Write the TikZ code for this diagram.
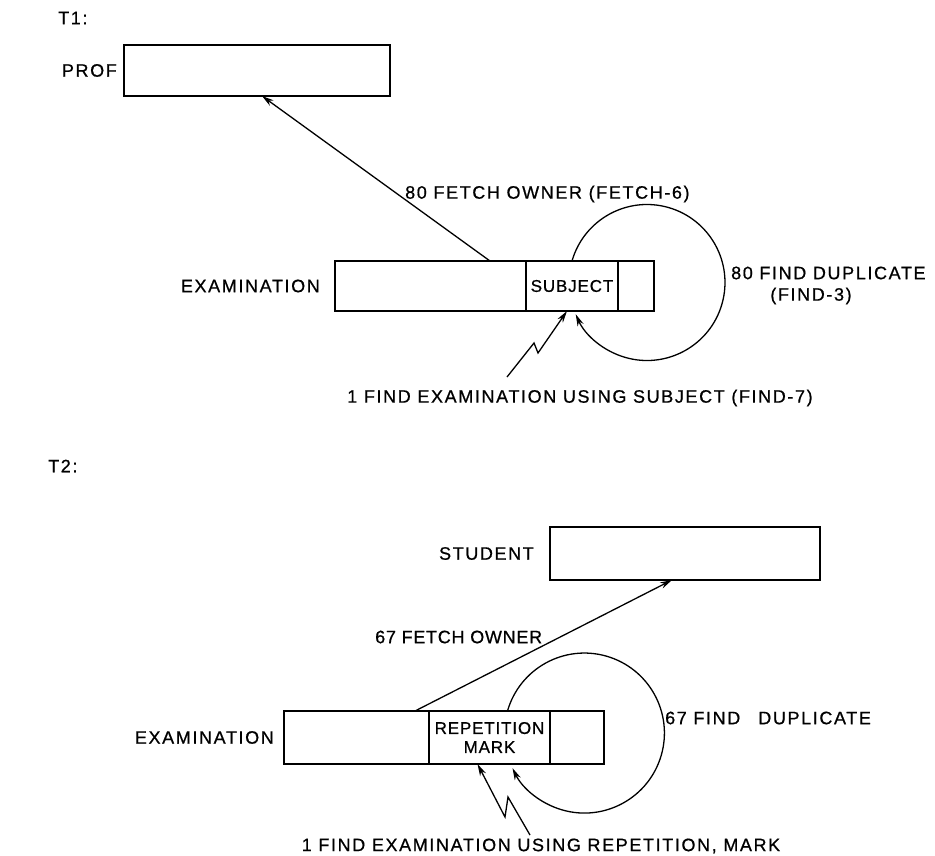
\documentclass[tikz,border=0pt]{standalone}
\usepackage{fontspec}
\newfontfamily\lettering{Liberation Sans}[LetterSpace=9, FakeBold=0.7]
\newfontfamily\tightlettering{Liberation Sans}[LetterSpace=4, FakeBold=0.7]
\newfontfamily\boxlettering{Liberation Sans}[LetterSpace=5, FakeBold=0.7]
\usetikzlibrary{arrows.meta, positioning}

\begin{document}
\begin{tikzpicture}[x=1pt, y=-1pt, >={Stealth[length=12pt, width=6.5pt]},
    recbox/.style={rectangle, draw, line width=1.5pt, outer sep=0pt, inner sep=0pt,
                   anchor=north west, font=\boxlettering\fontsize{17}{19}\selectfont,
                   align=center},
    lbl/.style={inner sep=0pt, font=\lettering\fontsize{18}{20}\selectfont},
    arrow/.style={->, line width=1.3pt}]

    \useasboundingbox (0,0) rectangle (935,855);

    % T1
    \node[lbl, anchor=west] (t1) at (58,18) {T1:};
    \node[recbox, minimum width=266, minimum height=51] (prof) at (124,45) {};
    \node[lbl, left=7pt of prof] (proflbl) {PROF};

    \node[recbox, minimum width=191, minimum height=50] (exam1a) at (335,261) {};
    \node[recbox, minimum width=92, minimum height=50, anchor=west, right=0pt of exam1a] (subj1) {SUBJECT};
    \node[recbox, minimum width=36, minimum height=50, anchor=west, right=0pt of subj1] (exam1c) {};
    \node[lbl, left=15pt of exam1a] (exam1lbl) {EXAMINATION};

    \draw[arrow] ([xshift=155]exam1a.north west) -- ([xshift=138]prof.south west);
    \node[lbl, anchor=west] (fetch1) at (405,194) {80 FETCH OWNER (FETCH-6)};
    \draw[arrow] (subj1.north) arc[start angle=-164, end angle=156, radius=78];
    \node[lbl, anchor=west] (dup1a) at (731,273) {80 FIND DUPLICATE};
    \node[lbl] (dup1b) at (811,296) {(FIND-3)};

    \coordinate (zz1) at (507,377);
    \draw[arrow] (zz1) -- ++(27,-34) -- ++(4,10) -- ([xshift=-5]subj1.south);
    \node[lbl] (find1) at (580,398) {1 FIND EXAMINATION USING SUBJECT (FIND-7)};

    % T2
    \node[lbl, anchor=west] (t2) at (48,466) {T2:};
    \node[recbox, minimum width=270, minimum height=53] (student) at (550,527) {};
    \node[lbl, left=16pt of student] (studentlbl) {STUDENT};

    \node[recbox, minimum width=145, minimum height=53] (exam2a) at (284,711) {};
    \node[recbox, minimum width=121, minimum height=53, anchor=west, right=0pt of exam2a] (rep2) {REPETITION\\MARK};
    \node[recbox, minimum width=54, minimum height=53, anchor=west, right=0pt of rep2] (exam2c) {};
    \node[lbl, left=10pt of exam2a] (exam2lbl) {EXAMINATION};

    \draw[arrow] ([xshift=131]exam2a.north west) -- ([xshift=122]student.south west);
    \node[lbl, anchor=west, font=\tightlettering\fontsize{18}{20}\selectfont] (fetch2) at (375,637) {67 FETCH OWNER};
    \draw[arrow] ([xshift=18]rep2.north) arc[start angle=-164, end angle=154, radius=80];
    \node[lbl, anchor=west] (dup2) at (665,718) {67 FIND\quad DUPLICATE};

    \coordinate (zz2) at (530,835);
    \draw[arrow] (zz2) -- ++(-22,-38) -- ++(-3,20) -- ([xshift=-12]rep2.south);
    \node[lbl] (find2) at (541,846) {1 FIND EXAMINATION USING REPETITION, MARK};
\end{tikzpicture}
\end{document}
